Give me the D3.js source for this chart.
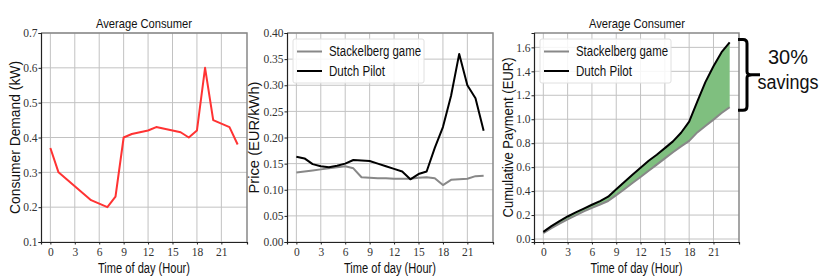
<!DOCTYPE html>
<html>
<head>
<meta charset="utf-8">
<style>
	body { margin: 0; background: #fff; }
	.tick text { font-family: "Liberation Serif", serif; font-size: 11.5px; fill: #333; }
	.lbl { font-family: "Liberation Sans", Arial, sans-serif; font-size: 14px; fill: #111; }
</style>
<script src="https://cdnjs.cloudflare.com/ajax/libs/d3/7.8.5/d3.min.js"></script>
</head>
<body>
<svg id="chart" width="830" height="277"></svg>
<script>
	var hours = d3.range(0, 24);
	var hourTicks = [0, 3, 6, 9, 12, 15, 18, 21];

	var demand = [0.37, 0.30, 0.28, 0.26, 0.24, 0.22, 0.21, 0.20, 0.23, 0.40, 0.41, 0.415,
		0.42, 0.43, 0.425, 0.42, 0.415, 0.40, 0.42, 0.60, 0.45, 0.44, 0.43, 0.38];

	var priceStackelberg = [0.133, 0.135, 0.137, 0.139, 0.141, 0.143, 0.145, 0.141, 0.124, 0.123, 0.122, 0.122,
		0.121, 0.121, 0.121, 0.123, 0.124, 0.122, 0.109, 0.119, 0.120, 0.121, 0.126, 0.127];
	var priceDutch = [0.163, 0.160, 0.149, 0.145, 0.143, 0.146, 0.150, 0.157, 0.156, 0.155, 0.150, 0.145,
		0.140, 0.135, 0.120, 0.130, 0.135, 0.180, 0.220, 0.280, 0.360, 0.300, 0.275, 0.213];

	var cumStackelberg = [0.049, 0.090, 0.128, 0.164, 0.198, 0.230, 0.260, 0.288, 0.317, 0.366, 0.416, 0.467,
		0.518, 0.570, 0.621, 0.673, 0.724, 0.773, 0.819, 0.890, 0.944, 0.997, 1.052, 1.100];
	var cumDutch = [0.060, 0.108, 0.150, 0.188, 0.222, 0.254, 0.286, 0.317, 0.353, 0.415, 0.476, 0.537,
		0.595, 0.653, 0.704, 0.759, 0.815, 0.887, 0.980, 1.148, 1.310, 1.442, 1.560, 1.641];

	var seriesNames = ['Stackelberg game', 'Dutch Pilot'];
	var seriesColors = ['#888888', '#000000'];

	var svg = d3.select('#chart');
	var plotTop = 33, plotBottom = 242;

	function panel(left, right, yDomain, yTicks, yFmt) {
		var x = d3.scaleLinear().domain([-1.15, 24.15]).range([left, right]);
		var y = d3.scaleLinear().domain(yDomain).range([plotBottom, plotTop]);
		var g = svg.append('g');

		// grid
		g.selectAll('.vg').data(hourTicks).enter().append('line')
			.attr('x1', function(d) { return x(d); }).attr('x2', function(d) { return x(d); })
			.attr('y1', plotTop).attr('y2', plotBottom)
			.attr('stroke', '#c2c2c2').attr('stroke-width', 1);
		g.selectAll('.hg').data(yTicks).enter().append('line')
			.attr('x1', left).attr('x2', right)
			.attr('y1', function(d) { return y(d); }).attr('y2', function(d) { return y(d); })
			.attr('stroke', '#c2c2c2').attr('stroke-width', 1);

		// top/right frame
		g.append('path')
			.attr('d', 'M' + left + ',' + plotTop + 'H' + right + 'V' + plotBottom)
			.attr('fill', 'none').attr('stroke', '#888').attr('stroke-width', 1.5);

		var xa = g.append('g').attr('transform', 'translate(0,' + plotBottom + ')')
			.call(d3.axisBottom(x).tickValues(hourTicks).tickSize(2.5).tickPadding(3));
		var ya = g.append('g').attr('transform', 'translate(' + left + ',0)')
			.call(d3.axisLeft(y).tickValues(yTicks).tickFormat(d3.format(yFmt)).tickSize(2.5).tickPadding(1));
		[xa, ya].forEach(function(a) {
			a.select('.domain').attr('stroke', '#222').attr('stroke-width', 1.2);
			a.selectAll('.tick line').attr('stroke', '#222');
		});

		g.append('text').attr('class', 'lbl')
			.attr('x', (left + right) / 2).attr('y', 273)
			.attr('text-anchor', 'middle')
			.attr('textLength', 92).attr('lengthAdjust', 'spacingAndGlyphs')
			.text('Time of day (Hour)');
		return { x: x, y: y, g: g };
	}

	function yLabel(cx, text, len) {
		svg.append('text').attr('class', 'lbl')
			.attr('transform', 'translate(' + cx + ',' + ((plotTop + plotBottom) / 2) + ') rotate(-90)')
			.attr('text-anchor', 'middle').attr('dy', '0.35em')
			.attr('textLength', len).attr('lengthAdjust', 'spacingAndGlyphs')
			.text(text);
	}

	function title(cx, text) {
		svg.append('text').attr('class', 'lbl')
			.attr('x', cx).attr('y', 28).attr('text-anchor', 'middle')
			.attr('textLength', 96).attr('lengthAdjust', 'spacingAndGlyphs')
			.style('font-size', '13px')
			.text(text);
	}

	function legend(left) {
		var bx = left + 6, by = 39;
		var lg = svg.append('g');
		lg.append('rect').attr('x', bx).attr('y', by).attr('width', 131).attr('height', 44)
			.attr('rx', 2).attr('fill', 'rgba(255,255,255,0.85)').attr('stroke', '#e0e0e0');
		seriesNames.forEach(function(n, i) {
			var yy = by + 12.5 + i * 19.5;
			lg.append('line').attr('x1', bx + 4).attr('x2', bx + 29)
				.attr('y1', yy).attr('y2', yy)
				.attr('stroke', seriesColors[i]).attr('stroke-width', 2);
			lg.append('text').attr('class', 'lbl')
				.attr('x', bx + 36).attr('y', yy).attr('dy', '0.35em')
				.attr('textLength', i === 0 ? 92 : 56).attr('lengthAdjust', 'spacingAndGlyphs')
				.text(n);
		});
	}

	// Panel 1: demand
	var p1 = panel(41, 247, [0.1, 0.7], [0.1, 0.2, 0.3, 0.4, 0.5, 0.6, 0.7], '.1f');
	p1.g.append('path').datum(demand)
		.attr('fill', 'none').attr('stroke', '#ff3333').attr('stroke-width', 2)
		.attr('stroke-linejoin', 'round')
		.attr('d', d3.line().x(function(d, i) { return p1.x(hours[i]); }).y(function(d) { return p1.y(d); }));
	title(144, 'Average Consumer');
	yLabel(15, 'Consumer Demand (kW)', 153);

	// Panel 2: price
	var p2 = panel(287, 493, [0, 0.4], [0, 0.05, 0.1, 0.15, 0.2, 0.25, 0.3, 0.35, 0.4], '.2f');
	[priceStackelberg, priceDutch].forEach(function(s, k) {
		p2.g.append('path').datum(s)
			.attr('fill', 'none').attr('stroke', seriesColors[k]).attr('stroke-width', 2)
			.attr('stroke-linejoin', 'round')
			.attr('d', d3.line().x(function(d, i) { return p2.x(hours[i]); }).y(function(d) { return p2.y(d); }));
	});
	legend(287);
	yLabel(254, 'Price (EUR/kWh)', 112);

	// Panel 3: cumulative payment
	var p3 = panel(534, 739, [-0.025, 1.72], [0, 0.2, 0.4, 0.6, 0.8, 1.0, 1.2, 1.4, 1.6], '.1f');
	p3.g.append('path').datum(hours)
		.attr('fill', '#7fbf7f')
		.attr('d', d3.area()
			.x(function(d) { return p3.x(d); })
			.y0(function(d, i) { return p3.y(cumStackelberg[i]); })
			.y1(function(d, i) { return p3.y(cumDutch[i]); }));
	[cumStackelberg, cumDutch].forEach(function(s, k) {
		p3.g.append('path').datum(s)
			.attr('fill', 'none').attr('stroke', seriesColors[k]).attr('stroke-width', 2)
			.attr('stroke-linejoin', 'round')
			.attr('d', d3.line().x(function(d, i) { return p3.x(hours[i]); }).y(function(d) { return p3.y(d); }));
	});
	legend(534);
	title(637, 'Average Consumer');
	yLabel(508, 'Cumulative Payment (EUR)', 160);

	// savings brace
	var bTop = p3.y(cumDutch[23]) - 3, bBot = p3.y(cumStackelberg[23]) + 3, bMid = (bTop + bBot) / 2;
	svg.append('path')
		.attr('d', 'M738,' + bTop + 'H743Q747,' + bTop + ' 747,' + (bTop + 4) + 'V' + (bMid - 3) +
			'Q747,' + bMid + ' 752,' + bMid + 'H760M752,' + bMid + 'Q747,' + bMid + ' 747,' + (bMid + 3) +
			'V' + (bBot - 4) + 'Q747,' + bBot + ' 743,' + bBot + 'H738')
		.attr('fill', 'none').attr('stroke', '#000').attr('stroke-width', 3);
	svg.append('text').attr('class', 'lbl').style('font-size', '20px')
		.attr('x', 788).attr('y', 64).attr('text-anchor', 'middle')
		.attr('textLength', 40).attr('lengthAdjust', 'spacingAndGlyphs')
		.text('30%');
	svg.append('text').attr('class', 'lbl').style('font-size', '20px')
		.attr('x', 788).attr('y', 89).attr('text-anchor', 'middle')
		.attr('textLength', 61).attr('lengthAdjust', 'spacingAndGlyphs')
		.text('savings');
</script>
</body>
</html>
